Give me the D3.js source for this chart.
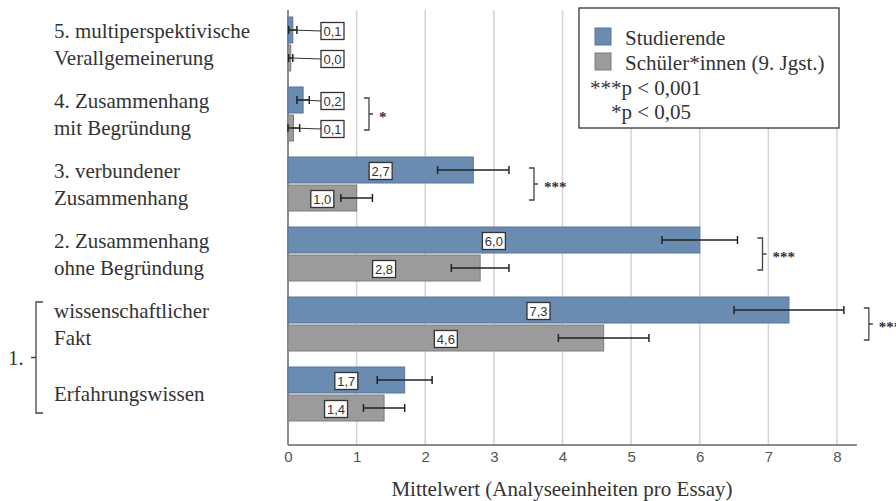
<!DOCTYPE html>
<html>
<head>
<meta charset="utf-8">
<script src="https://cdn.jsdelivr.net/npm/d3@7"></script>
<style>
  body { margin: 0; background: #fff; }
  svg { display: block; }
</style>
</head>
<body>
<div id="chart"></div>
<script>
// categories, top to bottom
const categories = ["c5", "c4", "c3", "c2", "c1a", "c1b"];
const categoryLines = [
  ["5. multiperspektivische", "Verallgemeinerung"],
  ["4. Zusammenhang", "mit Begründung"],
  ["3. verbundener", "Zusammenhang"],
  ["2. Zusammenhang", "ohne Begründung"],
  ["wissenschaftlicher", "Fakt"],
  ["Erfahrungswissen"]
];
const seriesNames = ["Studierende", "Schüler*innen (9. Jgst.)"];
const studMeans = [0.07, 0.22, 2.7, 6.0, 7.3, 1.7];
const studErr = [0.06, 0.09, 0.52, 0.55, 0.8, 0.4];
const schuelerMeans = [0.04, 0.08, 1.0, 2.8, 4.6, 1.4];
const schuelerErr = [0.03, 0.09, 0.23, 0.42, 0.66, 0.3];
const significance = ["", "*", "***", "***", "***", ""];
const xTicks = [0, 1, 2, 3, 4, 5, 6, 7, 8];
const xTitle = "Mittelwert (Analyseeinheiten pro Essay)";
const legendNotes = ["***p < 0,001", "*p < 0,05"];

const width = 896, height = 501;
const colors = ["#6b8cb1", "#9b9b9b"];
const strokes = ["#56759a", "#7c7c7c"];
const serif = "'Liberation Serif', 'Times New Roman', serif";
const sans = "'Liberation Sans', Arial, sans-serif";

const svg = d3.select("#chart").append("svg")
  .attr("width", width)
  .attr("height", height);

const x = d3.scaleLinear().domain([0, 8]).range([288, 837]);
const y = d3.scaleBand().domain(categories).range([9, 429]);
const axisY = 445;
const barH = 26;

// grid lines
svg.append("g")
  .selectAll("line")
  .data(xTicks.filter(d => d > 0))
  .join("line")
  .attr("x1", d => x(d)).attr("x2", d => x(d))
  .attr("y1", 10).attr("y2", axisY)
  .attr("stroke", "#d4d4d4")
  .attr("stroke-width", 1.5);

// x axis
const xAxis = svg.append("g")
  .attr("transform", `translate(0,${axisY})`)
  .call(d3.axisBottom(x).tickValues(xTicks).tickSize(0).tickPadding(6));
xAxis.select(".domain").remove();
xAxis.selectAll("text")
  .style("font-family", sans)
  .style("font-size", "15px")
  .attr("fill", "#555");

svg.append("line")
  .attr("x1", 288).attr("x2", x(8.29))
  .attr("y1", axisY).attr("y2", axisY)
  .attr("stroke", "#666").attr("stroke-width", 1.5);
svg.append("line")
  .attr("x1", 288).attr("x2", 288)
  .attr("y1", 10).attr("y2", axisY)
  .attr("stroke", "#666").attr("stroke-width", 1.5);

svg.append("text")
  .attr("x", 562).attr("y", 496)
  .attr("text-anchor", "middle")
  .style("font-family", serif)
  .style("font-size", "21px")
  .attr("fill", "#333")
  .text(xTitle);

// build rows
const rows = [];
categories.forEach((c, i) => {
  rows.push({ cat: c, s: 0, v: studMeans[i], e: studErr[i], yc: y(c) + y.bandwidth() / 2 - barH / 2 - 1 });
  rows.push({ cat: c, s: 1, v: schuelerMeans[i], e: schuelerErr[i], yc: y(c) + y.bandwidth() / 2 + barH / 2 + 1 });
});

const bars = svg.append("g");
bars.selectAll("rect")
  .data(rows)
  .join("rect")
  .attr("x", x(0))
  .attr("y", d => d.yc - barH / 2)
  .attr("width", d => x(d.v) - x(0))
  .attr("height", barH)
  .attr("fill", d => colors[d.s])
  .attr("stroke", d => strokes[d.s])
  .attr("stroke-width", 1);

// error bars
const err = svg.append("g").attr("stroke", "#222").attr("stroke-width", 1.5);
rows.forEach(d => {
  const x1 = x(Math.max(0, d.v - d.e)), x2 = x(d.v + d.e);
  err.append("line").attr("x1", x1).attr("x2", x2).attr("y1", d.yc).attr("y2", d.yc);
  err.append("line").attr("x1", x1).attr("x2", x1).attr("y1", d.yc - 4).attr("y2", d.yc + 4);
  err.append("line").attr("x1", x2).attr("x2", x2).attr("y1", d.yc - 4).attr("y2", d.yc + 4);
});

// value labels
const fmt = v => v.toFixed(1).replace(".", ",");
const boxW = 23, boxH = 17;
const labels = svg.append("g");
rows.forEach(d => {
  const outside = d.v < 0.5;
  const cx = outside ? x(0) + 33 + boxW / 2 : x(d.v / 2);
  if (outside) {
    labels.append("line")
      .attr("x1", x(d.v)).attr("y1", d.yc)
      .attr("x2", cx - boxW / 2).attr("y2", d.yc + 1)
      .attr("stroke", "#333").attr("stroke-width", 1.2);
  }
  labels.append("rect")
    .attr("x", cx - boxW / 2).attr("y", d.yc - boxH / 2 + 1)
    .attr("width", boxW).attr("height", boxH)
    .attr("fill", "#fff").attr("stroke", "#333").attr("stroke-width", 1.3);
  labels.append("text")
    .attr("x", cx).attr("y", d.yc + 6)
    .attr("text-anchor", "middle")
    .style("font-family", sans)
    .style("font-size", "13px")
    .attr("fill", "#333")
    .text(fmt(d.v));
});

// significance brackets
categories.forEach((c, i) => {
  if (!significance[i]) return;
  const right = Math.max(
    x(studMeans[i] + studErr[i]),
    x(schuelerMeans[i] + schuelerErr[i]),
    studMeans[i] < 0.5 ? x(0) + 33 + boxW : 0
  );
  const bx = right + 20;
  const cy = y(c) + y.bandwidth() / 2;
  svg.append("path")
    .attr("d", `M${bx},${cy - 16}H${bx + 5}V${cy + 16}H${bx}M${bx + 5},${cy}H${bx + 9}`)
    .attr("fill", "none").attr("stroke", "#444").attr("stroke-width", 1.3);
  svg.append("text")
    .attr("x", bx + 15).attr("y", cy + 8)
    .style("font-family", serif)
    .style("font-size", "15px")
    .style("font-weight", "bold")
    .attr("fill", "#333")
    .text(significance[i]);
});

// category labels
categories.forEach((c, i) => {
  const lines = categoryLines[i];
  const cy = y(c) + y.bandwidth() / 2;
  const t = svg.append("text")
    .style("font-family", serif)
    .style("font-size", "21px")
    .attr("fill", "#333");
  lines.forEach((l, j) => {
    t.append("tspan")
      .attr("x", 54)
      .attr("y", cy + 7 + (j - (lines.length - 1) / 2) * 27)
      .text(l);
  });
});

// brace for group 1
const b1 = y("c1a") + y.bandwidth() / 2 - 22;
const b2 = y("c1b") + y.bandwidth() / 2 + 19;
const bm = (b1 + b2) / 2;
svg.append("path")
  .attr("d", `M43,${b1}H36V${b2}H43M36,${bm}H31`)
  .attr("fill", "none").attr("stroke", "#444").attr("stroke-width", 1.3);
svg.append("text")
  .attr("x", 8).attr("y", bm + 7)
  .style("font-family", serif)
  .style("font-size", "21px")
  .attr("fill", "#333")
  .text("1.");

// legend
const lg = svg.append("g");
lg.append("rect")
  .attr("x", 579).attr("y", 8).attr("width", 260).attr("height", 120)
  .attr("fill", "#fff").attr("stroke", "#333").attr("stroke-width", 1.3);
seriesNames.forEach((n, i) => {
  lg.append("rect")
    .attr("x", 595).attr("y", 28 + i * 25).attr("width", 16).attr("height", 17)
    .attr("fill", colors[i]).attr("stroke", strokes[i]);
  lg.append("text")
    .attr("x", 625).attr("y", 45 + i * 25)
    .style("font-family", serif).style("font-size", "21px")
    .attr("fill", "#333")
    .text(n);
});
legendNotes.forEach((n, i) => {
  lg.append("text")
    .attr("x", i === 0 ? 590 : 611).attr("y", 95 + i * 24)
    .style("font-family", serif).style("font-size", "21px")
    .attr("fill", "#333")
    .text(n);
});
</script>
</body>
</html>
